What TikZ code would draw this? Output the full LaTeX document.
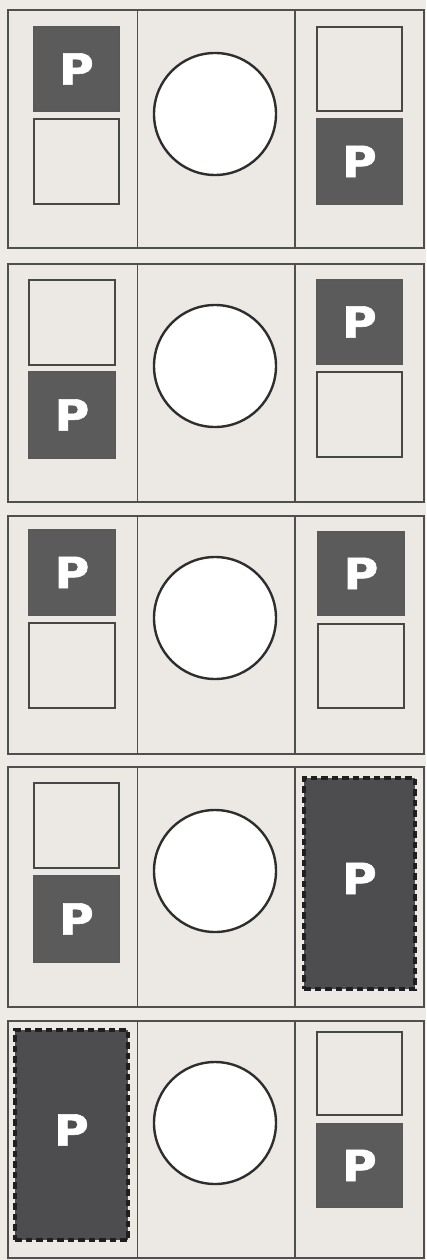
\documentclass[tikz,border=0pt]{standalone}
\usepackage{fontspec}
\setmainfont{Liberation Sans}
\newfontfamily\pfont[FakeBold=1.3]{DejaVu Sans}
\definecolor{bgc}{HTML}{EEEBE7}
\definecolor{panelc}{HTML}{ECE9E5}
\definecolor{linec}{HTML}{4F4F4F}
\definecolor{darkc}{HTML}{5B5B5B}
\definecolor{dashc}{HTML}{4D4D4F}
\newcommand{\pl}{\scalebox{1.1}[1]{P}}
\tikzset{
  pfontstyle/.style={font=\pfont\bfseries\fontsize{43}{43}\selectfont},
  frame/.style={draw=linec, line width=1.9pt, fill=panelc},
  divider/.style={draw=linec, line width=1.7pt},
  lightbox/.style={draw=black!72, line width=2pt, fill=panelc, inner sep=0pt},
  darkbox/.style={draw=black!65, line width=2pt, fill=darkc, inner sep=0pt, text=white, pfontstyle},
  dashbox/.style={draw=black!88, line width=3.4pt, dash pattern=on 6.5pt off 4pt, fill=dashc, inner sep=0pt},
  ptext/.style={text=white, pfontstyle, inner sep=0pt},
  ball/.style={circle, draw=black!82, line width=2.4pt, fill=white, minimum size=122pt, inner sep=0pt},
}
\begin{document}
\begin{tikzpicture}[x=1pt, y=-1pt]
\fill[bgc] (0,0) rectangle (426,1260);
\useasboundingbox (0,0) rectangle (426,1260);
% panel frames
\foreach \t/\b [count=\i] in {10/248, 264/502, 516/754, 767/1007, 1021/1258}{
  \draw[frame] (8,\t) rectangle (424,\b);
  \draw[divider] (137.5,\t) -- (137.5,\b);
  \draw[divider] (295,\t) -- (295,\b);
}
% panel 1
\node[darkbox, minimum width=85pt, minimum height=84pt] (a1) at (76.5,69) {\pl};
\node[lightbox, minimum width=85pt, minimum height=85pt] (a2) at (76.5,161.5) {};
\node[ball] (ac) at (215,114) {};
\node[lightbox, minimum width=85pt, minimum height=84pt] (a3) at (359.5,69) {};
\node[darkbox, minimum width=85pt, minimum height=85pt] (a4) at (359.5,161.5) {\pl};
% panel 2
\node[lightbox, minimum width=86pt, minimum height=85pt] (b1) at (72,322.5) {};
\node[darkbox, minimum width=86pt, minimum height=86pt] (b2) at (72,415) {\pl};
\node[ball] (bc) at (215,366) {};
\node[darkbox, minimum width=85pt, minimum height=84pt] (b3) at (359.5,322) {\pl};
\node[lightbox, minimum width=85pt, minimum height=85pt] (b4) at (359.5,414.5) {};
% panel 3
\node[darkbox, minimum width=86pt, minimum height=85pt] (c1) at (72,572.5) {\pl};
\node[lightbox, minimum width=86pt, minimum height=85pt] (c2) at (72,665.5) {};
\node[ball] (cc) at (215,618) {};
\node[darkbox, minimum width=86pt, minimum height=83pt] (c3) at (361,573.5) {\pl};
\node[lightbox, minimum width=86pt, minimum height=84pt] (c4) at (361,666) {};
% panel 4
\node[lightbox, minimum width=85pt, minimum height=85pt] (d1) at (76.5,825.5) {};
\node[darkbox, minimum width=85pt, minimum height=86pt] (d2) at (76.5,919) {\pl};
\node[ball] (dc) at (215,871) {};
\node[dashbox, minimum width=111pt, minimum height=211pt] (d3) at (359.5,883.5) {};
\node[ptext] (d3p) at (359.5,878.5) {\pl};
% panel 5
\node[dashbox, minimum width=113pt, minimum height=210pt] (e1) at (71.5,1135) {};
\node[ptext] (e1p) at (71.5,1130) {\pl};
\node[ball] (ec) at (215,1123) {};
\node[lightbox, minimum width=85pt, minimum height=83pt] (e2) at (359.5,1073.5) {};
\node[darkbox, minimum width=85pt, minimum height=83pt] (e3) at (359.5,1165.5) {\pl};
\end{tikzpicture}
\end{document}
